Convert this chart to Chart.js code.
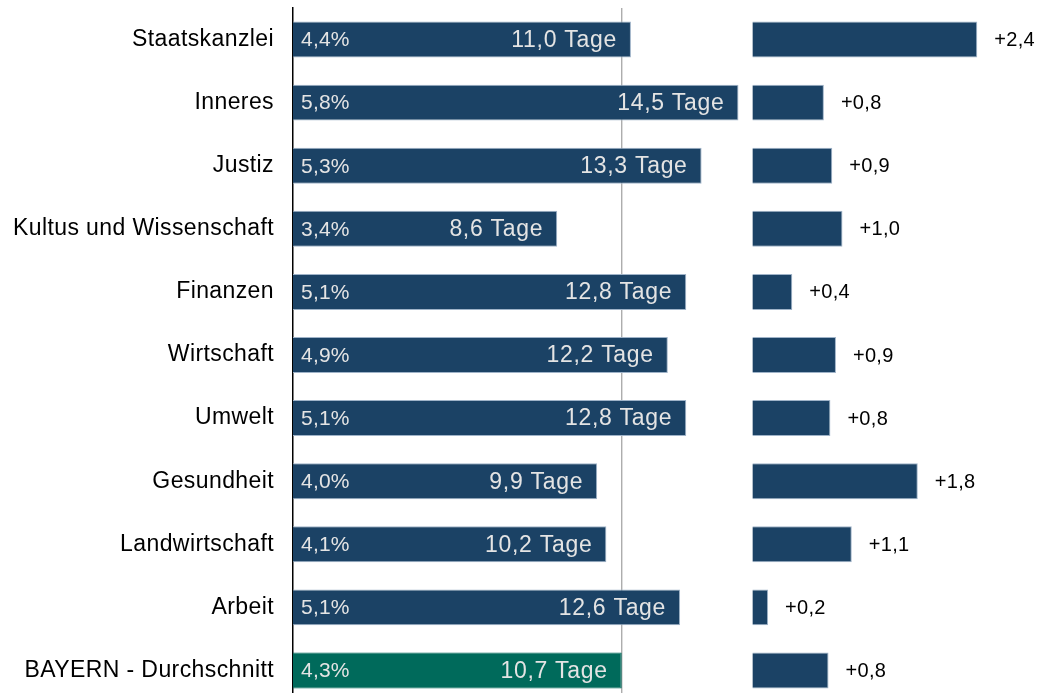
<!DOCTYPE html>
<html>
<head>
<meta charset="utf-8">
<script src="https://cdn.jsdelivr.net/npm/chart.js@4"></script>
<style>
  html, body { margin: 0; padding: 0; overflow: hidden; background: #fff; }
  #wrap { position: relative; width: 1047px; height: 702px; }
</style>
</head>
<body>
<div id="wrap"><canvas id="region"></canvas></div>
<script>
let categories = [
  'Staatskanzlei',
  'Inneres',
  'Justiz',
  'Kultus und Wissenschaft',
  'Finanzen',
  'Wirtschaft',
  'Umwelt',
  'Gesundheit',
  'Landwirtschaft',
  'Arbeit',
  'BAYERN - Durchschnitt'
];
let days = [11.0, 14.5, 13.3, 8.6, 12.8, 12.2, 12.8, 9.9, 10.2, 12.6, 10.7];
let percent = [4.4, 5.8, 5.3, 3.4, 5.1, 4.9, 5.1, 4.0, 4.1, 5.1, 4.3];
let change = [2.42, 0.77, 0.86, 0.97, 0.43, 0.90, 0.84, 1.78, 1.07, 0.17, 0.82];
let averageDays = 10.7;

let blue = '#1b4265';
let green = '#006a5b';
let font = '"Liberation Sans", Arial, sans-serif';

function de(v) {
  return v.toFixed(1).replace('.', ',');
}

let ctx = document.getElementById('region').getContext('2d');
let chart = new Chart(ctx, {
  type: 'bar',
  data: {
    labels: categories,
    datasets: [{
      label: 'Tage',
      data: days,
      xAxisID: 'x',
      grouped: false,
      backgroundColor: categories.map((c, i) => i === categories.length - 1 ? green : blue),
      borderColor: categories.map((c, i) => i === categories.length - 1 ? green : '#9fb3c8'),
      borderWidth: 1,
      borderSkipped: 'left',
      barPercentage: 0.57,
      categoryPercentage: 1
    }, {
      label: 'Veränderung',
      data: change,
      xAxisID: 'x2',
      grouped: false,
      backgroundColor: blue,
      borderColor: '#9fb3c8',
      borderWidth: 1,
      borderSkipped: 'left',
      barPercentage: 0.57,
      categoryPercentage: 1
    }]
  },
  options: {
    indexAxis: 'y',
    responsive: true,
    maintainAspectRatio: false,
    animation: false,
    layout: { padding: { top: 8, left: 0, right: 0, bottom: 0 } },
    plugins: {
      legend: { display: false },
      tooltip: { enabled: false }
    },
    scales: {
      y: {
        afterFit: function (scale) {
          scale.width = 293;
          scale.paddingTop = 0;
          scale.paddingBottom = 0;
        },
        grid: { display: false, drawTicks: false },
        border: { display: true, color: '#000', width: 1.5 },
        ticks: {
          color: '#000',
          padding: 19,
          font: { family: font, size: 23 }
        }
      },
      x: {
        stack: 'panels',
        stackWeight: 459,
        min: 0,
        max: 14.95,
        grid: { display: false, drawTicks: false },
        border: { display: false },
        ticks: { display: false }
      },
      x2: {
        position: 'bottom',
        stack: 'panels',
        stackWeight: 294.5,
        min: 0,
        max: 3.17,
        grid: { display: false, drawTicks: false },
        border: { display: false },
        ticks: { display: false }
      }
    }
  },
  plugins: [{
    id: 'spacing',
    beforeDraw: function (chart) { chart.ctx.letterSpacing = '0.4px'; },
    afterDraw: function (chart) { chart.ctx.letterSpacing = '0px'; }
  }, {
    id: 'averageLine',
    beforeDatasetsDraw: function (chart) {
      let c = chart.ctx, area = chart.chartArea;
      let x = chart.scales.x.getPixelForValue(averageDays);
      c.save();
      c.strokeStyle = '#a6a6a6';
      c.lineWidth = 1.3;
      c.beginPath();
      c.moveTo(x, area.top);
      c.lineTo(x, area.bottom);
      c.stroke();
      c.restore();
    }
  }, {
    id: 'barText',
    afterDatasetsDraw: function (chart) {
      let c = chart.ctx;
      c.save();
      c.textBaseline = 'middle';
      chart.getDatasetMeta(0).data.forEach((bar, i) => {
        c.fillStyle = '#e4e4e4';
        c.font = '21px ' + font;
        c.letterSpacing = '0.2px';
        c.textAlign = 'left';
        c.fillText(de(percent[i]) + '%', bar.base + 8, bar.y + 1);
        c.font = '23px ' + font;
        c.letterSpacing = '0.7px';
        c.textAlign = 'right';
        c.fillText(de(days[i]) + ' Tage', bar.x - 14, bar.y + 1);
      });
      chart.getDatasetMeta(1).data.forEach((bar, i) => {
        c.fillStyle = '#000';
        c.font = '20px ' + font;
        c.letterSpacing = '0.3px';
        c.textAlign = 'left';
        c.fillText('+' + de(change[i]), bar.x + 17, bar.y + 1);
      });
      c.restore();
    }
  }]
});
</script>
</body>
</html>
